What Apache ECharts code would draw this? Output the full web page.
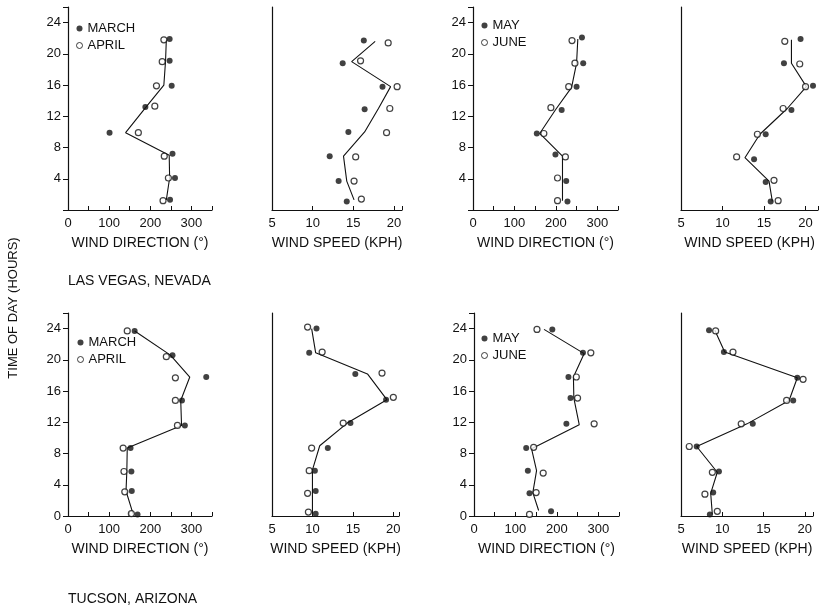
<!DOCTYPE html>
<html>
<head>
<meta charset="utf-8">
<title>wind direction / speed</title>
<script src="https://cdn.jsdelivr.net/npm/echarts@6/dist/echarts.min.js"></script>
<style>
  html, body { margin: 0; padding: 0; background: #fff; }
  #main { width: 827px; height: 607px; }
</style>
</head>
<body>
<div id="main"></div>
<script>
  // 数据: [值, 时刻(小时)]
  // Las Vegas - wind direction, March / April
  const lvDirMar = [[247,21.9],[247,19.1],[252,15.9],[188,13.2],[101,9.9],[254,7.2],[260,4.1],[248,1.3]];
  const lvDirApr = [[233,21.8],[229,19.0],[215,15.9],[211,13.3],[171,9.9],[234,6.9],[244,4.1],[231,1.2]];
  const lvDirMA  = [[239,21.8],[237,19.0],[233,16.0],[190,13.2],[140,9.9],[246,7.0],[247,4.1],[239,1.3]];
  // Las Vegas - wind speed, March / April
  const lvSpdMar = [[16.3,21.7],[13.7,18.8],[18.6,15.8],[16.4,12.9],[14.4,10.0],[12.1,6.9],[13.2,3.7],[14.2,1.1]];
  const lvSpdApr = [[19.3,21.4],[15.9,19.1],[20.4,15.8],[19.5,13.0],[19.1,9.9],[15.3,6.8],[15.1,3.7],[16.0,1.4]];
  const lvSpdMA  = [[17.7,21.6],[14.8,19.0],[19.6,15.8],[18.1,13.0],[16.4,10.0],[13.8,6.9],[14.2,3.7],[15.1,1.3]];
  // Las Vegas - wind direction, May / June
  const lvDirMay = [[263,22.1],[266,18.8],[250,15.8],[214,12.8],[154,9.8],[199,7.1],[225,3.7],[228,1.1]];
  const lvDirJun = [[239,21.7],[246,18.8],[231,15.8],[188,13.1],[171,9.8],[223,6.8],[204,4.1],[204,1.2]];
  const lvDirMJ  = [[253,21.9],[250,18.8],[238,15.7],[200,12.9],[161,9.8],[216,6.9],[216,3.8],[216,1.2]];
  // Las Vegas - wind speed, May / June
  const lvSpdMay = [[19.4,21.9],[17.4,18.8],[20.9,15.9],[18.3,12.8],[15.2,9.7],[13.8,6.5],[15.2,3.6],[15.8,1.1]];
  const lvSpdJun = [[17.5,21.6],[19.3,18.7],[20.0,15.8],[17.3,13.0],[14.2,9.7],[11.7,6.8],[16.2,3.8],[16.7,1.2]];
  const lvSpdMJ  = [[18.3,21.8],[18.3,18.8],[20.1,15.8],[17.8,13.0],[14.5,9.7],[12.7,6.7],[15.6,3.7],[16.0,1.1]];
  // Tucson - wind direction, March / April
  const tuDirMar = [[162,23.7],[254,20.6],[336,17.8],[277,14.8],[284,11.6],[152,8.7],[154,5.7],[155,3.2],[169,0.2]];
  const tuDirApr = [[144,23.7],[239,20.4],[261,17.7],[261,14.8],[266,11.6],[134,8.7],[136,5.7],[138,3.1],[154,0.3]];
  const tuDirMA  = [[162,23.7],[249,20.6],[296,17.8],[274,14.8],[276,11.6],[144,8.7],[143,5.7],[141,3.2],[158,0.3]];
  // Tucson - wind speed, March / April
  const tuSpdMar = [[10.5,24.0],[9.6,20.9],[15.3,18.2],[19.1,14.9],[14.7,11.9],[11.9,8.7],[10.3,5.8],[10.4,3.2],[10.4,0.3]];
  const tuSpdApr = [[9.4,24.2],[11.2,21.0],[18.6,18.3],[20.0,15.2],[13.8,11.9],[9.9,8.7],[9.6,5.8],[9.4,2.9],[9.5,0.5]];
  const tuSpdMA  = [[9.9,24.0],[10.4,20.9],[16.8,18.2],[19.2,14.9],[14.3,11.9],[10.9,9.0],[10.0,5.9],[10.0,3.1],[10.0,0.4]];
  // Tucson - wind direction, May / June
  const tuDirMay = [[189,23.9],[263,20.9],[228,17.8],[233,15.1],[223,11.8],[126,8.7],[130,5.8],[134,2.9],[186,0.6]];
  const tuDirJun = [[152,23.9],[282,20.9],[247,17.8],[250,15.1],[290,11.8],[144,8.8],[167,5.5],[150,3.0],[134,0.2]];
  const tuDirMJ  = [[169,23.9],[266,20.8],[240,17.8],[241,15.1],[254,11.7],[139,8.6],[151,5.8],[142,3.0],[156,0.7]];
  // Tucson - wind speed, May / June
  const tuSpdMay = [[8.4,23.8],[10.2,21.0],[19.1,17.7],[18.6,14.8],[13.7,11.8],[6.9,8.9],[9.6,5.7],[8.9,3.0],[8.5,0.2]];
  const tuSpdJun = [[9.2,23.7],[11.3,21.0],[19.8,17.5],[17.8,14.8],[12.3,11.8],[6.0,8.9],[8.8,5.6],[7.9,2.8],[9.4,0.6]];
  const tuSpdMJ  = [[9.1,23.8],[10.3,21.0],[19.1,17.7],[18.1,14.8],[13.0,11.8],[6.9,8.9],[9.4,5.6],[8.6,2.9],[8.8,0.2]];

  const monthsA = ['MARCH', 'APRIL'];
  const monthsB = ['MAY', 'JUNE'];
  const stations = ['LAS VEGAS, NEVADA', 'TUCSON, ARIZONA'];

  const font = "'Liberation Sans', Arial, sans-serif";
  const ink = '#111';

  // 每个小图的位置
  let panels = [
    { left: 68,  top: 7,   width: 144, kind: 'dir', max: 350,  first: true,  pts: [lvDirMar, lvDirApr, lvDirMA], months: monthsA, lg: [76, 22] },
    { left: 272, top: 7,   width: 130, kind: 'spd', max: 21,   first: true,  pts: [lvSpdMar, lvSpdApr, lvSpdMA], months: monthsA },
    { left: 473, top: 7,   width: 145, kind: 'dir', max: 350,  first: true,  pts: [lvDirMay, lvDirJun, lvDirMJ], months: monthsB, lg: [481, 19] },
    { left: 681, top: 7,   width: 137, kind: 'spd', max: 21.5, first: true,  pts: [lvSpdMay, lvSpdJun, lvSpdMJ], months: monthsB },
    { left: 68,  top: 313, width: 144, kind: 'dir', max: 350,  first: false, pts: [tuDirMar, tuDirApr, tuDirMA], months: monthsA, lg: [77, 336] },
    { left: 272, top: 313, width: 127, kind: 'spd', max: 20.7, first: false, pts: [tuSpdMar, tuSpdApr, tuSpdMA], months: monthsA },
    { left: 474, top: 313, width: 145, kind: 'dir', max: 350,  first: false, pts: [tuDirMay, tuDirJun, tuDirMJ], months: monthsB, lg: [481, 332] },
    { left: 681, top: 313, width: 132, kind: 'spd', max: 21,   first: false, pts: [tuSpdMay, tuSpdJun, tuSpdMJ], months: monthsB }
  ];

  let grid = [], xAxis = [], yAxis = [], series = [], legend = [];

  panels.forEach(function (p, i) {
    let isDir = p.kind === 'dir';
    grid.push({ left: p.left, top: p.top, width: p.width, height: 203 });

    xAxis.push({
      gridIndex: i,
      type: 'value',
      min: isDir ? 0 : 5,
      max: p.max,
      interval: isDir ? 50 : 5,
      name: isDir ? 'WIND DIRECTION (°)' : 'WIND SPEED (KPH)',
      nameLocation: 'middle',
      nameGap: 26,
      nameTextStyle: { color: ink, fontSize: 14, fontFamily: font },
      axisLine: { onZero: false, lineStyle: { color: ink, width: 1.2 } },
      axisTick: { inside: true, length: 4, lineStyle: { color: ink } },
      axisLabel: {
        margin: 7,
        color: ink,
        fontSize: 13,
        fontFamily: font,
        formatter: function (v) {
          if (isDir) return v % 100 === 0 ? v : '';
          return v % 5 === 0 ? v : '';
        }
      },
      splitLine: { show: false }
    });

    yAxis.push({
      gridIndex: i,
      type: 'value',
      min: 0,
      max: 26,
      interval: 4,
      axisLine: { show: true, onZero: false, lineStyle: { color: ink, width: 1.2 } },
      axisTick: { show: isDir, length: 5, lineStyle: { color: ink } },
      axisLabel: {
        show: isDir,
        margin: 7,
        color: ink,
        fontSize: 13,
        fontFamily: font,
        formatter: function (v) {
          if (v % 4 !== 0) return '';
          if (p.first && v === 0) return '';
          return v;
        }
      },
      splitLine: { show: false }
    });

    // 平均线
    series.push({
      type: 'line',
      xAxisIndex: i,
      yAxisIndex: i,
      data: p.pts[2],
      symbol: 'none',
      silent: true,
      lineStyle: { color: ink, width: 1.1 },
      z: 2
    });
    series.push({
      name: p.months[0],
      type: 'scatter',
      xAxisIndex: i,
      yAxisIndex: i,
      data: p.pts[0],
      symbol: 'circle',
      symbolSize: 6,
      itemStyle: { color: ink },
      z: 3
    });
    series.push({
      name: p.months[1],
      type: 'scatter',
      xAxisIndex: i,
      yAxisIndex: i,
      data: p.pts[1],
      symbol: 'circle',
      symbolSize: 6,
      itemStyle: { color: '#fff', borderColor: ink, borderWidth: 1.2 },
      z: 3
    });

    if (p.lg) {
      legend.push({
        data: p.months,
        orient: 'vertical',
        left: p.lg[0],
        top: p.lg[1],
        icon: 'circle',
        itemWidth: 6,
        itemHeight: 6,
        itemGap: 4,
        selectedMode: false,
        padding: 0,
        itemStyle: { borderWidth: 1 },
        textStyle: { color: ink, fontSize: 13, fontFamily: font, lineHeight: 13 }
      });
    }
  });

  let myChart = echarts.init(document.getElementById('main'));
  myChart.setOption({
    animation: false,
    backgroundColor: '#fff',
    title: [
      { text: stations[0], left: 68, top: 274, padding: 0,
        textStyle: { color: ink, fontSize: 14, fontWeight: 'normal', fontFamily: font } },
      { text: stations[1], left: 68, top: 592, padding: 0,
        textStyle: { color: ink, fontSize: 14, fontWeight: 'normal', fontFamily: font } }
    ],
    graphic: [{
      type: 'text',
      x: 13,
      y: 308,
      rotation: Math.PI / 2,
      style: {
        text: 'TIME OF DAY (HOURS)',
        fill: ink,
        font: '13px ' + font,
        textAlign: 'center',
        textVerticalAlign: 'middle'
      }
    }],
    legend: legend,
    grid: grid,
    xAxis: xAxis,
    yAxis: yAxis,
    series: series
  });
</script>
</body>
</html>
